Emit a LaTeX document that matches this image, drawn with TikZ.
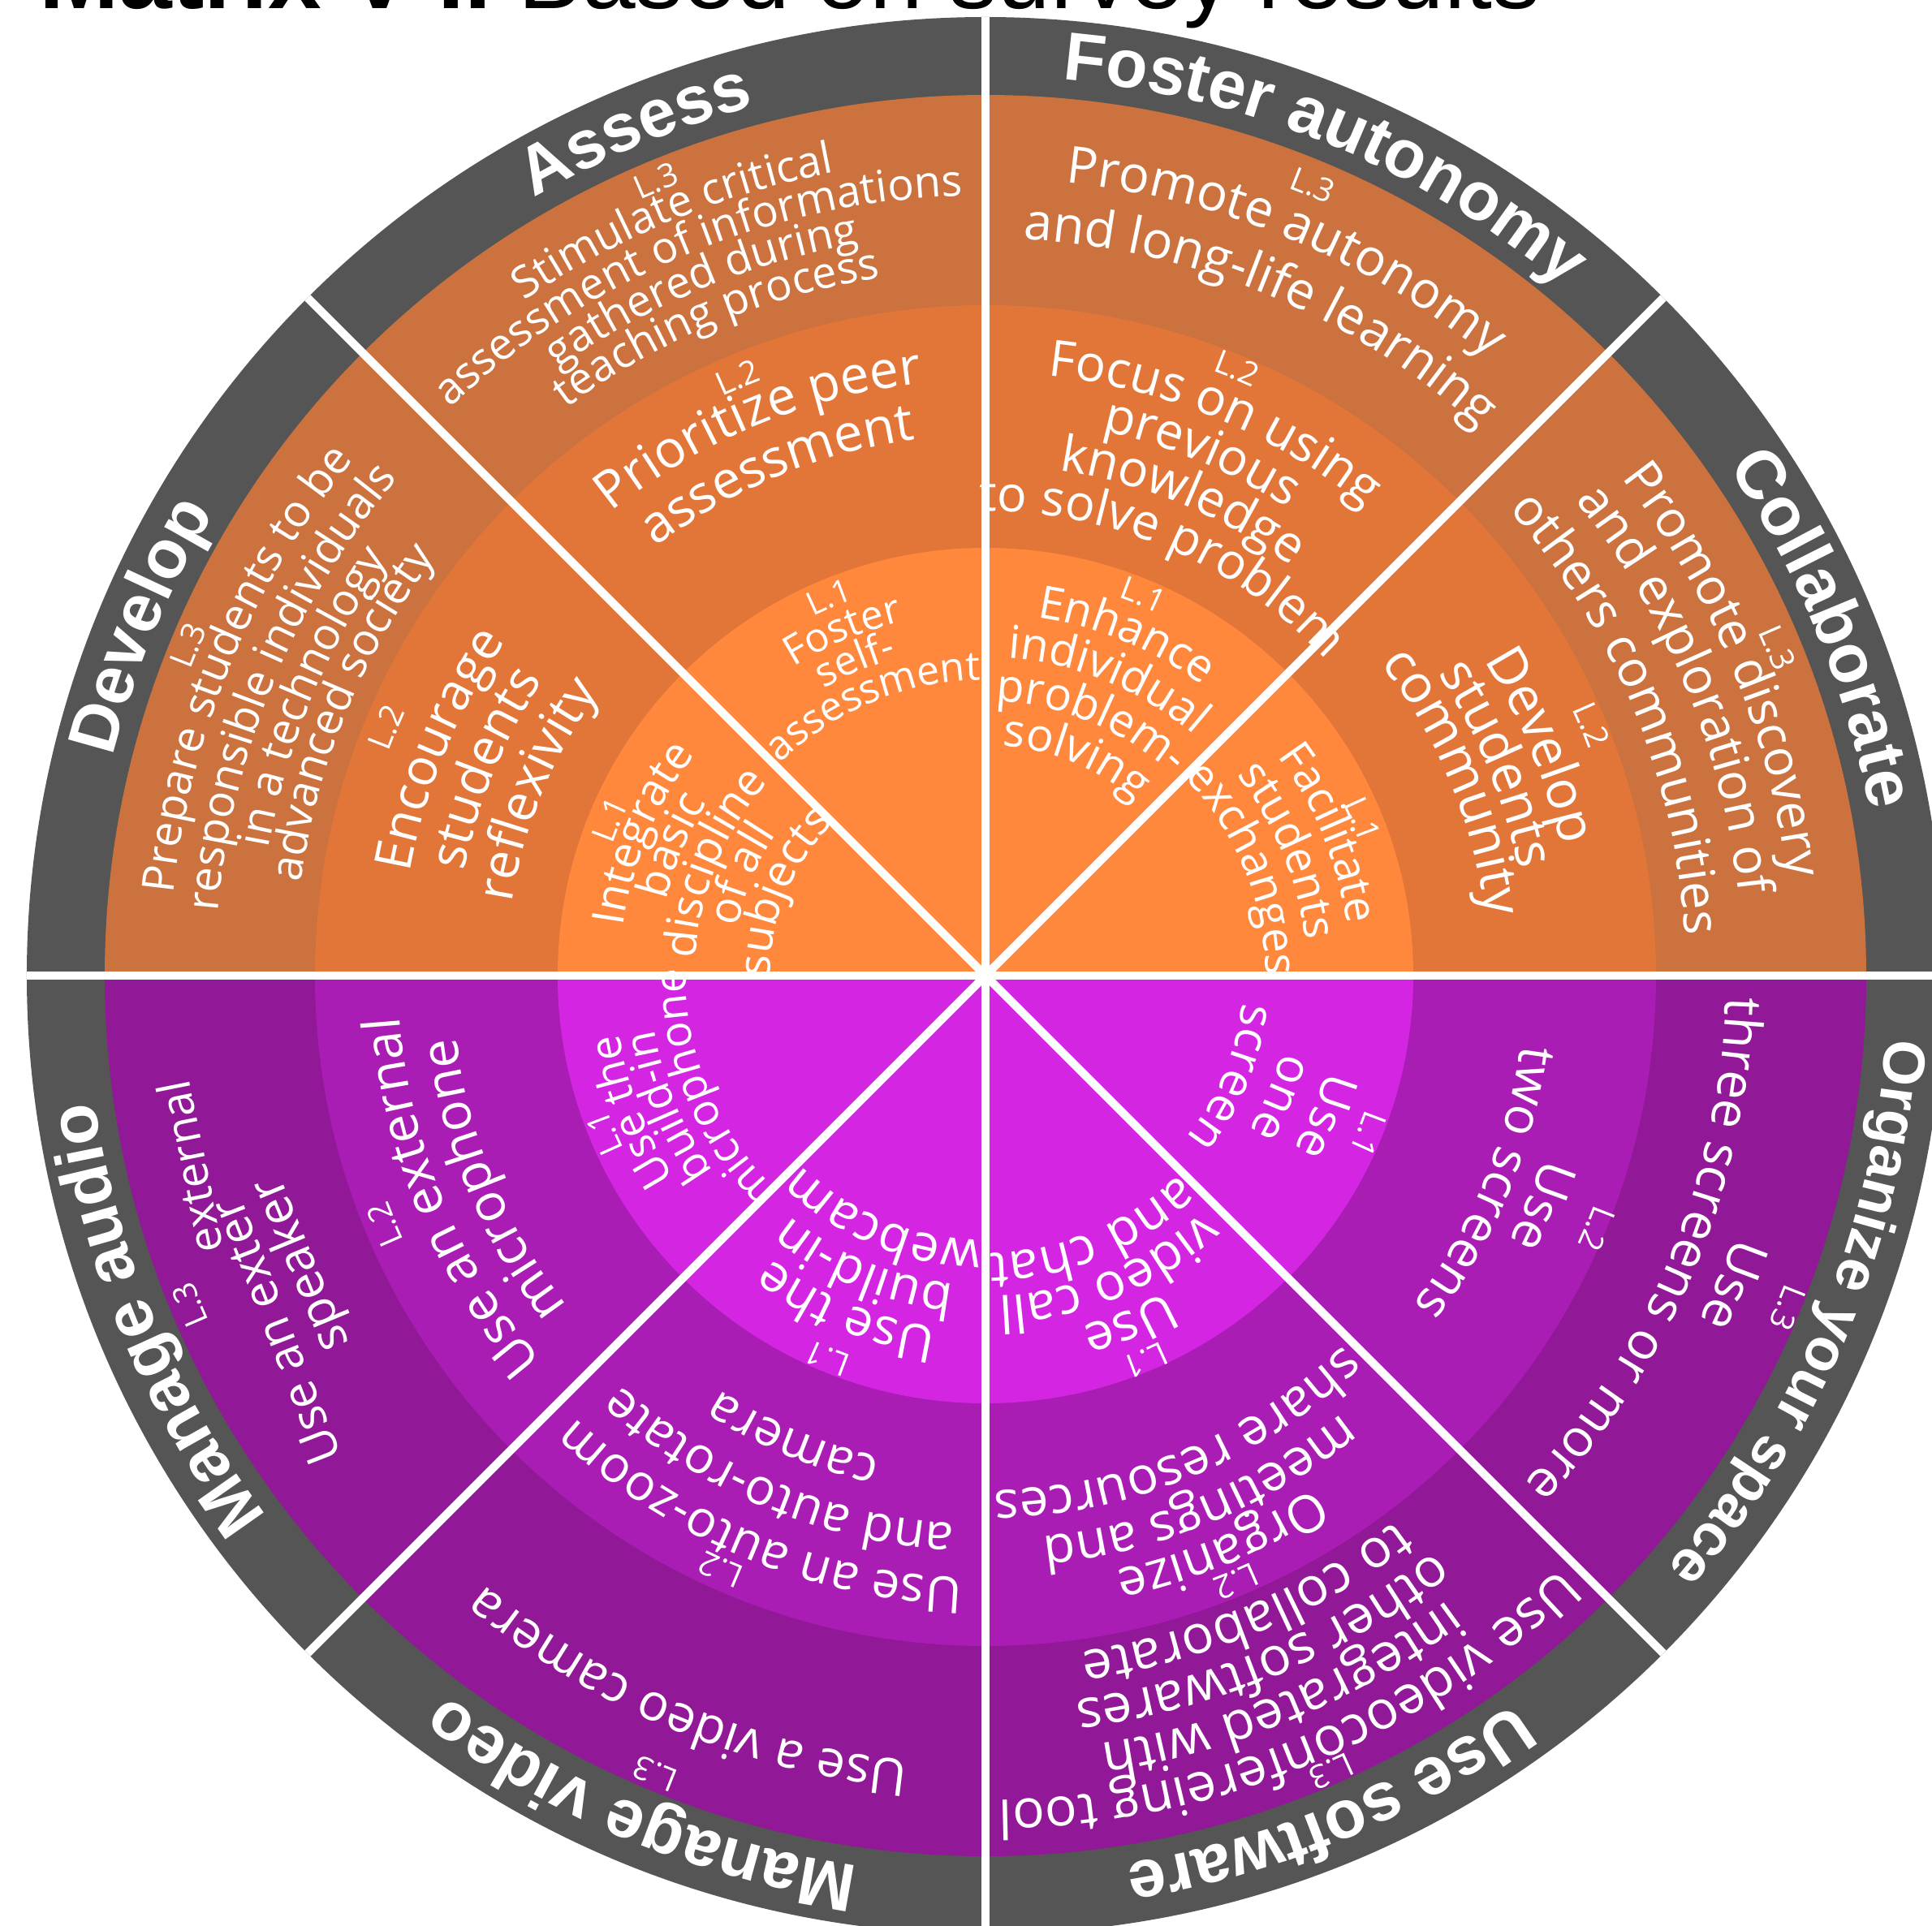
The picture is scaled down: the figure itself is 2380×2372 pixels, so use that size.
\documentclass[tikz,border=0pt]{standalone}
\usepackage{fontspec}
\usetikzlibrary{decorations.text}
\newfontfamily\osans{Open Sans}
\newfontfamily\lsans{Liberation Sans}
\definecolor{gry}{RGB}{85,85,85}
\definecolor{orC}{RGB}{203,114,62}
\definecolor{orB}{RGB}{226,118,57}
\definecolor{orA}{RGB}{255,136,60}
\definecolor{puC}{RGB}{145,24,150}
\definecolor{puB}{RGB}{170,29,180}
\definecolor{puA}{RGB}{212,38,226}
\newcommand\curfs{10}
\newcommand\txtfont{\osans\fontsize{\curfs pt}{\curfs pt}\selectfont}
\newcommand\lblfont{\lsans\bfseries\fontsize{\curfs pt}{\curfs pt}\selectfont}
% text along a clockwise arc centred on angle #1, baseline radius #2, size #3
\newcommand\arcline[4]{%
  \renewcommand\curfs{#3}%
  \path[decorate,decoration={text along path,text align=center,text color=white,text={|\txtfont|#4}}]
    ({#1+89}:#2) arc[start angle={#1+89},end angle={#1-89},radius=#2];}
% text along a straight baseline from #1 to #2, size #3
\newcommand\strline[4]{%
  \renewcommand\curfs{#3}%
  \path[decorate,decoration={text along path,text align=center,text color=white,text={|\txtfont|#4}}]
    #1 -- #2;}
\newcommand\ringline[4]{%
  \renewcommand\curfs{#3}%
  \path[decorate,decoration={text along path,text align=center,text color=white,text={|\lblfont|#4}}]
    ({#1+89}:#2) arc[start angle={#1+89},end angle={#1-89},radius=#2];}
\begin{document}
\begin{tikzpicture}[x=1pt,y=1pt]
\useasboundingbox (-1214,-1170) rectangle (1166,1202);
\fill[white] (-1214,-1170) rectangle (1166,1202);
% rings
\fill[gry] (0,0) circle[radius=1181];
\fill[orC] (0,0) -- (1085,0) arc[start angle=0,end angle=180,radius=1085] -- cycle;
\fill[orB] (0,0) -- (826,0) arc[start angle=0,end angle=180,radius=826] -- cycle;
\fill[orA] (0,0) -- (527,0) arc[start angle=0,end angle=180,radius=527] -- cycle;
\fill[puC] (0,0) -- (1085,0) arc[start angle=0,end angle=-180,radius=1085] -- cycle;
\fill[puB] (0,0) -- (826,0) arc[start angle=0,end angle=-180,radius=826] -- cycle;
\fill[puA] (0,0) -- (527,0) arc[start angle=0,end angle=-180,radius=527] -- cycle;
% ---- Assess
\arcline{112.5}{1046}{40}{L.3}
\arcline{112.5}{1007}{54}{Stimulate critical}
\arcline{112.5}{961}{54}{assessment of informations}
\arcline{112.5}{915}{54}{gathered during}
\arcline{112.5}{869}{54}{teaching process}
\arcline{112.5}{784}{40}{L.2}
\arcline{112.5}{734}{64}{Prioritize peer}
\arcline{112.5}{666}{64}{assessment}
\arcline{112.5}{491}{40}{L.1}
\arcline{112.5}{448}{50}{Foster}
\arcline{112.5}{406}{50}{self-}
\arcline{112.5}{364}{50}{assessment}
% ---- Foster autonomy
\arcline{67.5}{1040}{40}{L.3}
\arcline{67.5}{982}{63}{Promote autonomy}
\arcline{67.5}{908}{63}{and long-life learning}
\arcline{67.5}{796}{40}{L.2}
\arcline{67.5}{743}{62}{Focus on using}
\arcline{67.5}{686}{62}{previous}
\arcline{67.5}{629}{62}{knowledge}
\arcline{66.8}{572}{61}{to solve problem}
\arcline{67.5}{494}{40}{L.1}
\arcline{67.5}{446}{56}{Enhance}
\arcline{67.5}{392}{56}{individual}
\arcline{67.5}{338}{56}{problem-}
\arcline{67.5}{284}{56}{solving}
% ---- Collaborate
\arcline{22.5}{1042}{40}{L.3}
\arcline{22.5}{995}{62}{Promote discovery}
\arcline{22.5}{933}{62}{and exploration of}
\arcline{22.5}{863}{62}{others communities}
\arcline{22.5}{794}{40}{L.2}
\arcline{22.5}{727}{65}{Develop}
\arcline{22.5}{670}{65}{students}
\arcline{22.5}{620}{65}{community}
\arcline{22.5}{489}{40}{L.1}
\arcline{22.5}{450}{55}{Facilitate}
\arcline{22.5}{396}{55}{students}
\arcline{22.5}{345}{55}{exchanges}
% ---- Develop
\arcline{157.5}{1049}{40}{L.3}
\arcline{157.5}{1005}{55}{Prepare students to be}
\arcline{157.5}{948}{55}{responsible individuals}
\arcline{157.5}{897}{55}{in a technology}
\arcline{157.5}{851}{55}{advanced society}
\arcline{157.5}{785}{40}{L.2}
\arcline{157.5}{720}{63}{Encourage}
\arcline{157.5}{655}{63}{students}
\arcline{157.5}{590}{63}{reflexivity}
\arcline{157.5}{487}{40}{L.1}
\arcline{157.5}{450}{55}{Integrate}
\arcline{157.5}{404}{55}{basic}
\arcline{157.5}{358}{55}{discipline}
\arcline{157.5}{311}{55}{of all}
\arcline{157.5}{265}{55}{subjects}
% ---- Manage audio
\arcline{202.5}{1047}{40}{L.3}
\strline{(-930,-382)}{(-990,-82)}{56}{external}
\strline{(-783,-618)}{(-928,-245)}{59}{Use an exter}
\strline{(-752,-530)}{(-902,-168)}{61}{speaker}
\arcline{202.5}{787}{40}{L.2}
\arcline{202.5}{723}{64}{Use an external}
\arcline{202.5}{656}{64}{microphone}
\arcline{202.5}{494}{40}{L.1}
\arcline{201}{457}{54}{Use the}
\arcline{202.5}{413}{54}{build-in}
\arcline{202.5}{369}{54}{microphone}
% ---- Manage video
\arcline{247.5}{1050}{40}{L.3}
\arcline{247.5}{972}{63}{Use a video camera}
\arcline{246}{787}{40}{L.2}
\arcline{247.5}{743}{62}{Use an auto-zoom}
\arcline{247.5}{676}{62}{and auto-rotate}
\arcline{247.5}{607}{62}{camera}
\arcline{247.5}{497}{40}{L.1}
\arcline{247.5}{438}{63}{Use the}
\arcline{247.5}{382}{63}{build-in}
\arcline{247.5}{326}{63}{webcam}
% ---- Use software
\arcline{293.5}{1055}{40}{L.3}
\arcline{292.5}{1016}{66}{Use videoconfereing tool}
\arcline{292.5}{957}{66}{integrated with}
\arcline{292.5}{899}{66}{other softwares}
\arcline{292.5}{841}{66}{to collaborate}
\arcline{292.5}{794}{40}{L.2}
\arcline{292.5}{750}{64}{Organize}
\arcline{292.5}{695}{64}{meetings and}
\arcline{292.5}{634}{64}{share resources}
\arcline{292.5}{500}{40}{L.1}
\arcline{292.5}{448}{64}{Use}
\arcline{292.5}{395}{64}{video call}
\arcline{292.5}{342}{64}{and chat}
% ---- Organize your space
\arcline{337.5}{1056}{40}{L.3}
\arcline{337.5}{977}{64}{Use}
\arcline{337.5}{912}{64}{three screens or more}
\arcline{337.5}{801}{40}{L.2}
\arcline{337.5}{723}{63}{Use}
\arcline{337.5}{665}{63}{two screens}
\arcline{337.5}{497}{40}{L.1}
\arcline{337.5}{436}{59}{Use}
\arcline{337.5}{377}{59}{one}
\arcline{337.5}{318}{59}{screen}
% ---- outer ring labels
\ringline{112.5}{1108}{84}{Assess}
\ringline{67.5}{1108}{84}{Foster autonomy}
\ringline{22.5}{1108}{84}{Collaborate}
\ringline{157.5}{1108}{84}{Develop}
\ringline{202.5}{1108}{84}{Manage audio}
\ringline{247.5}{1108}{84}{Manage video}
\ringline{292.5}{1108}{84}{Use software}
\ringline{337.5}{1112}{73}{Organize your space}
% ---- separators
\foreach \a in {0,45,...,315}
  \draw[white,line width=10] (0,0) -- (\a:1181);
% ---- title (cut by the page edge)
\node[anchor=base west,inner sep=0,font=\lsans\fontsize{118pt}{118pt}\selectfont] (title) at (-1166,1191) {\textbf{Matrix V II} Based on survey results};
\end{tikzpicture}
\end{document}
